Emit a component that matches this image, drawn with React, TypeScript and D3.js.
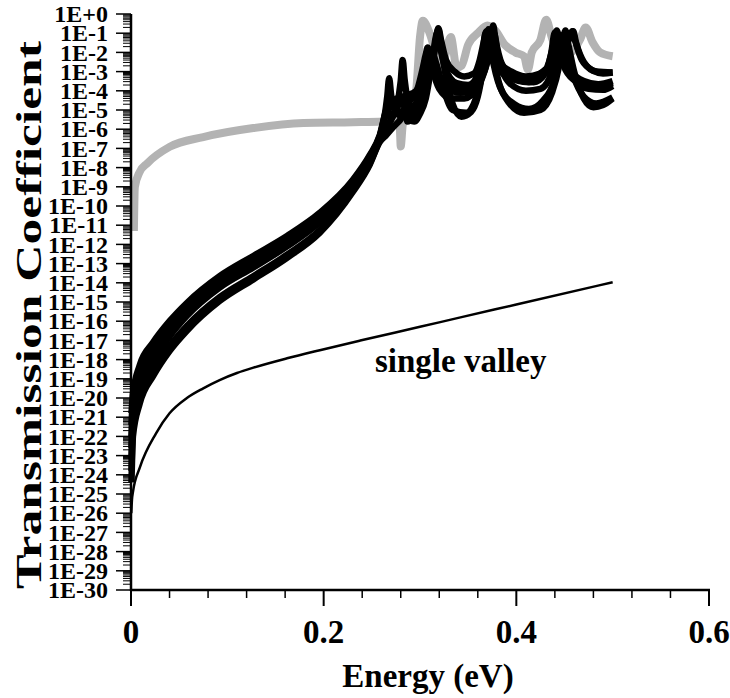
import React, { useRef, useEffect } from 'react'
import * as d3 from 'd3'

// energy (eV) vs transmission coefficient
const xTickLabels = ['0', '0.2', '0.4', '0.6']
const xMinorTicks = [0.04, 0.08, 0.12, 0.16, 0.24, 0.28, 0.32, 0.36, 0.44, 0.48, 0.52, 0.56]
const yTickLabels = [
  '1E+0', '1E-1', '1E-2', '1E-3', '1E-4', '1E-5', '1E-6', '1E-7', '1E-8', '1E-9', '1E-10',
  '1E-11', '1E-12', '1E-13', '1E-14', '1E-15', '1E-16', '1E-17', '1E-18', '1E-19', '1E-20',
  '1E-21', '1E-22', '1E-23', '1E-24', '1E-25', '1E-26', '1E-27', '1E-28', '1E-29', '1E-30',
]

type Pt = [number, number]

const grayCurve: Pt[] = [
  [0.003, 5e-12], [0.004, 1e-9], [0.009, 5.9e-9], [0.017, 1.7e-8], [0.04, 1.2e-7], [0.075, 3.9e-7],
  [0.127, 1.15e-6], [0.179, 2.1e-6], [0.23, 2.3e-6], [0.262, 2.5e-6], [0.275, 3.2e-6], [0.279, 1.26e-6],
  [0.28, 1.26e-7], [0.282, 1.6e-6], [0.285, 5e-6], [0.292, 1.6e-5], [0.296, 1e-4], [0.3, 6.3e-2],
  [0.303, 0.45], [0.31, 0.1], [0.318, 5e-3], [0.322, 1.6e-3], [0.332, 6.3e-2], [0.338, 1.6e-3],
  [0.343, 2e-3], [0.35, 2.5e-2], [0.36, 0.1], [0.37, 0.25], [0.378, 0.14], [0.388, 2.5e-2],
  [0.399, 1e-2], [0.408, 6.3e-3], [0.412, 1.26e-3], [0.416, 1e-2], [0.425, 4.5e-2], [0.431, 0.5],
  [0.437, 5.6e-2], [0.445, 1e-2], [0.456, 1e-2], [0.466, 4.5e-2], [0.472, 0.2], [0.479, 3.5e-2],
  [0.487, 1e-2], [0.5, 6.3e-3],
]

const singleValley: Pt[] = [
  [0.0003, 1e-26], [0.001, 5e-26], [0.002, 1.26e-25], [0.0093, 2.5e-24], [0.026, 1.45e-22],
  [0.04, 1.6e-21], [0.058, 1e-20], [0.075, 3.2e-20], [0.092, 8.6e-20], [0.11, 2e-19],
  [0.127, 3.8e-19], [0.162, 1.17e-18], [0.196, 3.1e-18], [0.238, 9.8e-18], [0.3, 5.1e-17],
  [0.342, 1.58e-16], [0.4, 7.4e-16], [0.5, 1.07e-14],
]

const curveA: Pt[] = [
  [0.0005, 1.6e-21], [0.002, 1.6e-20], [0.009, 5e-19], [0.023, 7.9e-18], [0.04, 1e-16], [0.058, 8.9e-16],
  [0.092, 2.2e-14], [0.127, 2.5e-13], [0.162, 2.75e-12], [0.196, 4.4e-11], [0.23, 2.2e-9], [0.248, 4.6e-8],
  [0.258, 4.5e-7], [0.265, 1e-5], [0.272, 3.2e-5], [0.285, 5.6e-5], [0.296, 1e-4], [0.305, 5e-4],
  [0.312, 4e-3], [0.316, 3.2e-2], [0.319, 0.18], [0.322, 4e-2], [0.327, 4e-3], [0.336, 1e-3],
  [0.346, 5.6e-4], [0.356, 7.9e-4], [0.362, 4e-3], [0.366, 3.2e-2], [0.369, 0.126], [0.372, 3.2e-2],
  [0.38, 4e-3], [0.395, 1e-3], [0.41, 5.6e-4], [0.425, 7.9e-4], [0.44, 2.5e-3], [0.45, 1.26e-2],
  [0.455, 6.3e-2], [0.458, 0.126], [0.461, 4e-2], [0.468, 4e-3], [0.48, 1.12e-3], [0.49, 7.9e-4],
  [0.5, 8.9e-4],
]

const curveB: Pt[] = [
  [0.0005, 4e-22], [0.002, 7.9e-21], [0.009, 2.5e-19], [0.023, 4.5e-18], [0.04, 6.3e-17], [0.058, 6e-16],
  [0.092, 1.6e-14], [0.127, 1.8e-13], [0.162, 2e-12], [0.196, 3.3e-11], [0.23, 1.9e-9], [0.248, 4e-8],
  [0.258, 4e-7], [0.265, 7.9e-6], [0.272, 1.6e-5], [0.28, 2e-5], [0.29, 3.2e-5], [0.298, 1.6e-4],
  [0.303, 1.6e-3], [0.306, 7.9e-3], [0.308, 1.8e-2], [0.31, 7.9e-3], [0.316, 1e-3], [0.326, 3.2e-4],
  [0.34, 1.26e-4], [0.353, 1.6e-4], [0.365, 6.3e-4], [0.371, 6.3e-3], [0.374, 6.3e-2], [0.376, 0.25],
  [0.378, 6.3e-2], [0.385, 2.5e-3], [0.4, 4e-4], [0.413, 2.8e-4], [0.425, 5e-4], [0.434, 3.2e-3],
  [0.439, 3.2e-2], [0.442, 0.14], [0.445, 3.2e-2], [0.455, 1.6e-3], [0.47, 3.2e-4], [0.485, 2.2e-4],
  [0.5, 3.2e-4],
]

const curveC: Pt[] = [
  [0.0005, 1e-22], [0.002, 4e-21], [0.009, 1.26e-19], [0.023, 2.5e-18], [0.04, 4e-17], [0.058, 4.1e-16],
  [0.092, 1.12e-14], [0.127, 1.26e-13], [0.162, 1.5e-12], [0.196, 2.5e-11], [0.23, 1.55e-9], [0.248, 3.5e-8],
  [0.258, 3.5e-7], [0.265, 5e-6], [0.275, 7.1e-6], [0.285, 1e-5], [0.295, 2e-5], [0.305, 1.6e-4],
  [0.312, 1.26e-3], [0.316, 2e-2], [0.319, 0.16], [0.322, 2e-2], [0.327, 5e-4], [0.334, 2e-5],
  [0.343, 4.5e-6], [0.353, 7.9e-6], [0.36, 5e-5], [0.365, 1e-3], [0.369, 2.5e-2], [0.371, 0.16],
  [0.374, 2.5e-2], [0.38, 6.3e-4], [0.392, 2.5e-5], [0.408, 7.1e-6], [0.425, 1e-5], [0.437, 7.9e-5],
  [0.444, 1.6e-3], [0.448, 3.2e-2], [0.451, 0.14], [0.454, 2.5e-2], [0.46, 1e-3], [0.47, 4e-5],
  [0.48, 1.4e-5], [0.49, 1.8e-5], [0.5, 4e-5],
]

const curveD: Pt[] = [
  [0.0005, 2.5e-23], [0.002, 2e-21], [0.009, 6.3e-20], [0.023, 1.4e-18], [0.04, 2.5e-17], [0.058, 2.8e-16],
  [0.092, 7.9e-15], [0.127, 8.9e-14], [0.162, 1.1e-12], [0.196, 1.9e-11], [0.23, 1.3e-9], [0.248, 3e-8],
  [0.258, 3.2e-7], [0.263, 4e-6], [0.266, 5e-5], [0.268, 4.5e-4], [0.27, 6.3e-5], [0.274, 1e-5],
  [0.28, 5e-6], [0.29, 6.3e-6], [0.298, 2.5e-5], [0.303, 3.2e-4], [0.306, 3.2e-3], [0.308, 1.4e-2],
  [0.311, 3.2e-3], [0.316, 6.3e-4], [0.326, 1.6e-4], [0.342, 7.9e-5], [0.355, 1.26e-4], [0.366, 1e-3],
  [0.372, 1.6e-2], [0.375, 0.18], [0.378, 2.5e-2], [0.388, 1.26e-3], [0.403, 3.2e-4], [0.418, 2.8e-4],
  [0.43, 7.9e-4], [0.436, 7.9e-3], [0.44, 0.11], [0.443, 2e-2], [0.451, 1.26e-3], [0.465, 2.5e-4],
  [0.48, 1.4e-4], [0.5, 2.5e-4],
]

const curveE: Pt[] = [
  [0.0005, 6.3e-24], [0.002, 1e-21], [0.009, 3.2e-20], [0.023, 7.9e-19], [0.04, 1.6e-17], [0.058, 1.9e-16],
  [0.092, 5.6e-15], [0.127, 6.3e-14], [0.162, 7.9e-13], [0.196, 1.45e-11], [0.23, 1.07e-9], [0.248, 2.6e-8],
  [0.258, 2.8e-7], [0.264, 1e-6], [0.27, 3.2e-6], [0.276, 1.6e-5], [0.28, 3.2e-4], [0.282, 4e-3],
  [0.284, 4e-4], [0.288, 2.5e-5], [0.295, 1e-5], [0.302, 2.5e-5], [0.308, 2.5e-4], [0.313, 4e-3],
  [0.316, 5e-2], [0.318, 0.11], [0.32, 3.2e-2], [0.326, 1.6e-3], [0.338, 2.5e-4], [0.35, 2e-4],
  [0.36, 6.3e-4], [0.365, 1e-2], [0.368, 0.1], [0.371, 1.6e-2], [0.38, 1.6e-3], [0.4, 4e-4],
  [0.415, 4.5e-4], [0.43, 1.26e-3], [0.445, 6.3e-3], [0.454, 4e-2], [0.459, 0.126], [0.462, 3.2e-2],
  [0.47, 3.2e-3], [0.483, 1e-3], [0.5, 8.9e-4],
]

const curveF: Pt[] = [
  [0.0005, 1.6e-24], [0.002, 3.2e-22], [0.009, 1e-20], [0.023, 2.8e-19], [0.04, 5e-18], [0.058, 5.6e-17],
  [0.092, 1.78e-15], [0.127, 2.2e-14], [0.162, 2.9e-13], [0.196, 5.5e-12], [0.23, 6.3e-10], [0.248, 1.74e-8],
  [0.258, 2.4e-7], [0.265, 1e-6], [0.272, 5e-6], [0.278, 2e-5], [0.281, 3.2e-5], [0.284, 1.26e-5],
  [0.287, 2.5e-6], [0.293, 4e-6], [0.3, 1.26e-5], [0.305, 1.26e-4], [0.308, 2.5e-3], [0.31, 5e-3],
  [0.313, 1.26e-3], [0.32, 1.26e-4], [0.332, 4e-5], [0.346, 4e-5], [0.36, 1.6e-4], [0.369, 2.5e-3],
  [0.374, 5e-2], [0.377, 0.1], [0.38, 1e-2], [0.393, 2.5e-4], [0.41, 1e-4], [0.425, 1.26e-4],
  [0.437, 1e-3], [0.443, 2.5e-2], [0.446, 6.3e-2], [0.45, 6.3e-3], [0.46, 4e-4], [0.475, 1.26e-4],
  [0.49, 1.12e-4], [0.5, 1.8e-4],
]

const curveG: Pt[] = [
  [0.0005, 4e-25], [0.002, 1e-22], [0.009, 5e-21], [0.023, 1.4e-19], [0.04, 2.8e-18], [0.058, 3.2e-17],
  [0.092, 1.12e-15], [0.127, 1.5e-14], [0.162, 2e-13], [0.196, 4.1e-12], [0.23, 5.2e-10], [0.248, 1.5e-8],
  [0.258, 2.1e-7], [0.265, 5e-7], [0.272, 1.26e-6], [0.278, 2.5e-6], [0.283, 4.5e-6], [0.288, 3.2e-6],
  [0.294, 2.5e-6], [0.3, 6.3e-6], [0.306, 4e-5], [0.311, 1e-3], [0.314, 6.3e-3], [0.317, 2.5e-3],
  [0.325, 1e-4], [0.334, 1e-5], [0.348, 7.1e-6], [0.358, 4e-5], [0.365, 1e-3], [0.369, 3.2e-2],
  [0.371, 7.9e-2], [0.374, 1e-2], [0.383, 1.6e-4], [0.398, 2e-5], [0.413, 1.12e-5], [0.428, 3.2e-5],
  [0.439, 3.2e-4], [0.445, 1e-2], [0.448, 7.9e-2], [0.451, 1.6e-2], [0.459, 6.3e-4], [0.47, 5e-5],
  [0.483, 2.2e-5], [0.5, 4.5e-5],
]

const bundle = [curveG, curveF, curveE, curveD, curveC, curveB, curveA]

const FONT = "'Liberation Serif', 'Times New Roman', serif"

export default function App() {
  const svgRef = useRef<SVGSVGElement>(null)

  useEffect(() => {
    const svg = d3.select(svgRef.current)
    svg.selectAll('*').remove()

    const width = 730, height = 698
    const x = d3.scaleLinear().domain([0, 0.6]).range([131, 709])
    const y = d3.scaleLog().domain([1e-30, 1]).range([590, 14])

    svg.attr('width', width).attr('height', height)
    svg.append('rect').attr('width', width).attr('height', height).attr('fill', '#fff')

    const line = d3.line<Pt>()
      .x(d => x(d[0]))
      .y(d => y(d[1]))
      .curve(d3.curveMonotoneX)

    // curves
    svg.append('path').attr('d', line(grayCurve))
      .attr('fill', 'none').attr('stroke', '#b3b3b3').attr('stroke-width', 8)
      .attr('stroke-linejoin', 'round')

    svg.append('path').attr('d', line(singleValley))
      .attr('fill', 'none').attr('stroke', '#000').attr('stroke-width', 2.5)

    bundle.forEach(c => {
      svg.append('path').attr('d', line(c))
        .attr('fill', 'none').attr('stroke', '#000').attr('stroke-width', 6.5)
        .attr('stroke-linejoin', 'round')
    })

    // y axis ticks
    const yTickValues = yTickLabels.map(l => Number(l))
    const minor: number[] = []
    yTickValues.slice(1).forEach(v => {
      for (let m = 2; m <= 9; m++) minor.push(v * m)
    })
    svg.append('g').selectAll('line').data(minor).join('line')
      .attr('x1', 123).attr('x2', 131)
      .attr('y1', d => y(d)).attr('y2', d => y(d))
      .attr('stroke', '#000').attr('stroke-width', 1)
    svg.append('g').selectAll('line').data(yTickValues).join('line')
      .attr('x1', 116).attr('x2', 131)
      .attr('y1', d => y(d)).attr('y2', d => y(d))
      .attr('stroke', '#000').attr('stroke-width', 1.5)
    svg.append('g').selectAll('text').data(yTickLabels).join('text')
      .attr('x', 108).attr('y', d => y(Number(d)))
      .attr('dy', '0.34em')
      .attr('text-anchor', 'end')
      .attr('font-family', FONT).attr('font-weight', 'bold').attr('font-size', 24)
      .text(d => d)

    // x axis ticks
    svg.append('g').selectAll('line').data(xMinorTicks).join('line')
      .attr('x1', d => x(d)).attr('x2', d => x(d))
      .attr('y1', 590).attr('y2', 598)
      .attr('stroke', '#000').attr('stroke-width', 1.5)
    svg.append('g').selectAll('line').data(xTickLabels).join('line')
      .attr('x1', d => x(+d)).attr('x2', d => x(+d))
      .attr('y1', 590).attr('y2', 606)
      .attr('stroke', '#000').attr('stroke-width', 2)
    svg.append('g').selectAll('text').data(xTickLabels).join('text')
      .attr('x', d => x(+d)).attr('y', 643)
      .attr('text-anchor', 'middle')
      .attr('font-family', FONT).attr('font-weight', 'bold').attr('font-size', 33)
      .text(d => d)

    // axis lines
    svg.append('line').attr('x1', 131).attr('x2', 131).attr('y1', 14).attr('y2', 591)
      .attr('stroke', '#000').attr('stroke-width', 2.5)
    svg.append('line').attr('x1', 130).attr('x2', 710).attr('y1', 590).attr('y2', 590)
      .attr('stroke', '#000').attr('stroke-width', 2.5)

    // titles
    svg.append('text').attr('x', 428).attr('y', 687)
      .attr('text-anchor', 'middle')
      .attr('font-family', FONT).attr('font-weight', 'bold').attr('font-size', 33)
      .text('Energy (eV)')
    svg.append('text')
      .attr('transform', 'rotate(-90)')
      .attr('x', -315).attr('y', 41)
      .attr('text-anchor', 'middle')
      .attr('font-family', FONT).attr('font-weight', 'bold').attr('font-size', 36)
      .attr('textLength', 548).attr('lengthAdjust', 'spacingAndGlyphs')
      .text('Transmission Coefficient')

    svg.append('text').attr('x', 375).attr('y', 372)
      .attr('font-family', FONT).attr('font-weight', 'bold').attr('font-size', 33)
      .text('single valley')
  }, [])

  return (
    <svg ref={svgRef} style={{ position: 'absolute', left: 0, top: 0, display: 'block' }} />
  )
}
